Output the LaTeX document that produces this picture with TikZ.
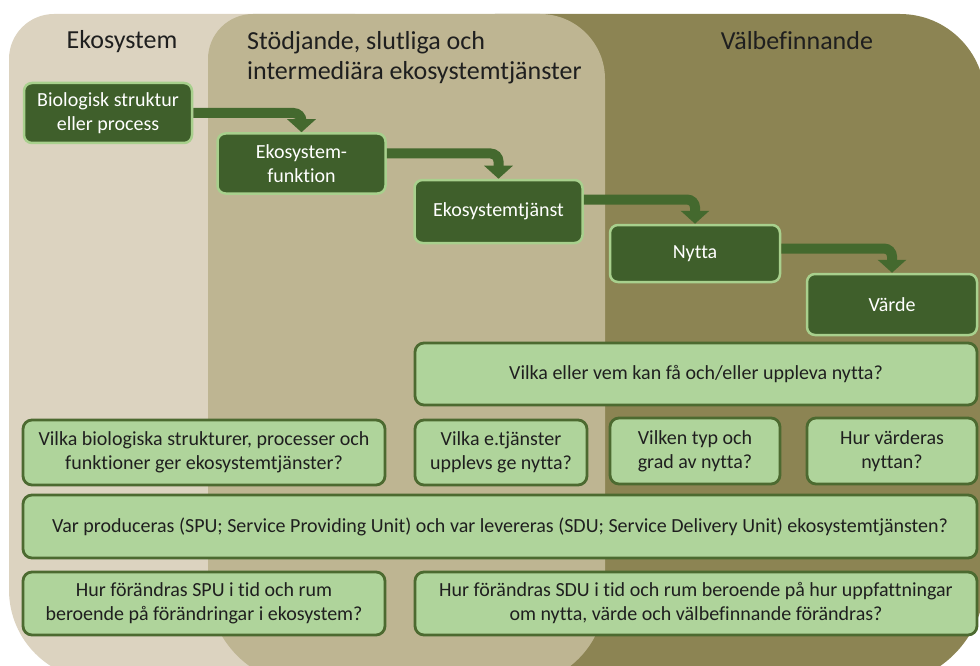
\documentclass[tikz,border=0pt]{standalone}
\usepackage{fontspec}
\setmainfont{Carlito}[Ligatures=NoCommon]
\usetikzlibrary{arrows.meta}

\definecolor{zoneeko}{HTML}{DCD3C0}
\definecolor{zonestod}{HTML}{BEB592}
\definecolor{zonewell}{HTML}{8C8453}
\definecolor{darkleaf}{HTML}{3F5F2B}
\definecolor{lightrim}{HTML}{A8D08D}
\definecolor{arrowleaf}{HTML}{44692E}
\definecolor{paleleaf}{HTML}{AFD49B}
\definecolor{darkrim}{HTML}{4C6A30}

\begin{document}
\begin{tikzpicture}
	[x=1pt,y=-1pt,
	every node/.style={font=\fontsize{20}{24}\selectfont,align=center,inner sep=0pt},
	darkbox/.style={draw=lightrim,line width=2.5pt,fill=darkleaf,text=white,rounded corners=8pt,minimum width=168pt,minimum height=60pt},
	lightbox/.style={draw=darkrim,line width=2.8pt,fill=paleleaf,text=black!88,rounded corners=9pt},
	header/.style={font=\fontsize{26}{30}\selectfont,text=black!88},
	flow/.style={draw=arrowleaf,line width=10pt,rounded corners=8pt,-{Triangle[width=28pt,length=13pt]}}]
	\useasboundingbox (0,0) rectangle (980,666);
	\clip (0,0) rectangle (980,666);
	
	% the three zones
	\fill[zoneeko] (9,300) [rounded corners=45pt] -- (9,14) -- (400,14) -- (400,680) [rounded corners=90pt] -- (9,680) -- cycle;
	\fill[zonewell] (450,300) [rounded corners=45pt] -- (450,14) -- (800,14) [rounded corners=85pt] -- (985,14) -- (985,300) [rounded corners=105pt] -- (985,685) -- (800,685) [sharp corners] -- (450,685) -- cycle;
	\fill[zonestod] (208,300) [rounded corners=45pt] -- (208,14) -- (400,14) [rounded corners=65pt] -- (605,14) -- (605,400) [rounded corners=90pt] -- (605,685) -- (400,685) [rounded corners=100pt] -- (208,685) -- cycle;
	
	\node[header] (hEko) at (122,42) {Ekosystem};
	\node[header,align=left,anchor=west] (hStod) at (247,58) {Stödjande, slutliga och\\intermediära ekosystemtjänster};
	\node[header] (hWell) at (797,41) {Välbefinnande};
	
	% chain
	\node[darkbox] (bio) at (108,113) {Biologisk struktur\\eller process};
	\node[darkbox] (fun) at (301.5,163.5) {Ekosystem-\\funktion};
	\node[darkbox,minimum height=63pt] (tjanst) at (498.5,211.5) {Ekosystemtjänst};
	\node[darkbox,minimum width=170pt,minimum height=57pt] (nytta) at (695,253.5) {Nytta};
	\node[darkbox,minimum width=170pt,minimum height=61pt] (varde) at (892,304.5) {Värde};
	
	\draw[flow] (bio.east) -| (fun.north);
	\draw[flow] ([yshift=10pt]fun.east) -| (tjanst.north);
	\draw[flow] ([yshift=12pt]tjanst.east) -| (nytta.north);
	\draw[flow] ([yshift=5pt]nytta.east) -| (varde.north);
	
	% questions
	\node[lightbox,minimum width=562pt,minimum height=62pt] (qVem) at (696,374) {Vilka eller vem kan få och/eller uppleva nytta?};
	\node[lightbox,minimum width=362pt,minimum height=65pt] (qBio) at (204,452.5) {Vilka biologiska strukturer, processer och\\funktioner ger ekosystemtjänster?};
	\node[lightbox,minimum width=172pt,minimum height=65pt] (qTj) at (501,452.5) {Vilka e.tjänster\\upplevs ge nytta?};
	\node[lightbox,minimum width=170pt,minimum height=66pt] (qTyp) at (695,451) {Vilken typ och\\grad av nytta?};
	\node[lightbox,minimum width=170pt,minimum height=66pt] (qVard) at (892,451) {Hur värderas\\nyttan?};
	\node[lightbox,minimum width=954pt,minimum height=63pt] (qVar) at (500,526.5) {Var produceras (SPU; Service Providing Unit) och var levereras (SDU; Service Delivery Unit) ekosystemtjänsten?};
	\node[lightbox,minimum width=362pt,minimum height=63pt] (qSpu) at (204,603.5) {Hur förändras SPU i tid och rum\\beroende på förändringar i ekosystem?};
	\node[lightbox,minimum width=562pt,minimum height=63pt] (qSdu) at (696,603.5) {Hur förändras SDU i tid och rum beroende på hur uppfattningar\\om nytta, värde och välbefinnande förändras?};
\end{tikzpicture}
\end{document}
